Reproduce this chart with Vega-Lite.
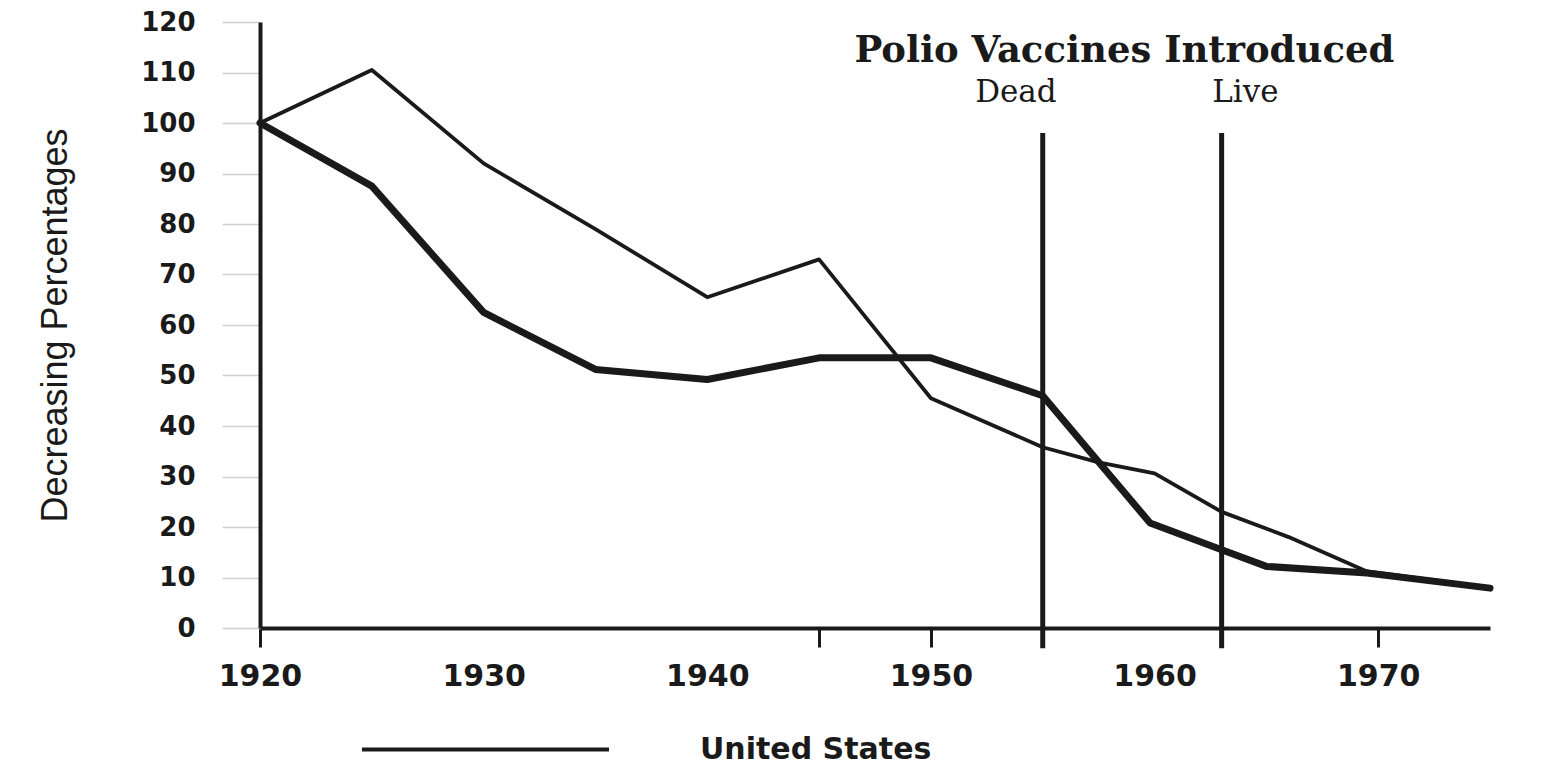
{
  "$schema": "https://vega.github.io/schema/vega-lite/v6.json",
  "width": 1230,
  "height": 606,
  "autosize": "none",
  "padding": {"left": 260, "top": 22, "right": 72, "bottom": 138},
  "background": "white",
  "config": {"view": {"stroke": null}},
  "datasets": {
    "series": [
      {"series": "United States", "year": 1920, "value": 100},
      {"series": "United States", "year": 1925, "value": 110.5},
      {"series": "United States", "year": 1930, "value": 92},
      {"series": "United States", "year": 1935, "value": 79},
      {"series": "United States", "year": 1940, "value": 65.5},
      {"series": "United States", "year": 1945, "value": 73},
      {"series": "United States", "year": 1950, "value": 45.5},
      {"series": "United States", "year": 1955, "value": 35.8},
      {"series": "United States", "year": 1957.5, "value": 32.8},
      {"series": "United States", "year": 1960, "value": 30.6},
      {"series": "United States", "year": 1963, "value": 23},
      {"series": "United States", "year": 1966, "value": 18},
      {"series": "United States", "year": 1969.5, "value": 11.2},
      {"series": "United States", "year": 1975, "value": 8},
      {"series": "Other country", "year": 1920, "value": 100},
      {"series": "Other country", "year": 1925, "value": 87.5},
      {"series": "Other country", "year": 1930, "value": 62.5},
      {"series": "Other country", "year": 1935, "value": 51.2},
      {"series": "Other country", "year": 1940, "value": 49.2},
      {"series": "Other country", "year": 1945, "value": 53.5},
      {"series": "Other country", "year": 1950, "value": 53.5},
      {"series": "Other country", "year": 1955, "value": 46},
      {"series": "Other country", "year": 1959.8, "value": 20.8},
      {"series": "Other country", "year": 1963, "value": 15.5},
      {"series": "Other country", "year": 1965, "value": 12.2},
      {"series": "Other country", "year": 1969.5, "value": 10.9},
      {"series": "Other country", "year": 1975, "value": 7.9}
    ],
    "events": [
      {"event": "Dead", "year": 1955},
      {"event": "Live", "year": 1963}
    ],
    "labels": [
      {"text": "Dead", "year": 1953.8, "value": 106},
      {"text": "Live", "year": 1964.06, "value": 106}
    ],
    "heading": [
      {"text": "Polio Vaccines Introduced", "year": 1958.65, "value": 114.2}
    ]
  },
  "layer": [
    {
      "data": {"name": "series"},
      "mark": {"type": "line", "color": "#1a1a1a", "strokeJoin": "round", "strokeCap": "round"},
      "encoding": {
        "x": {
          "field": "year", "type": "quantitative", "title": null,
          "scale": {"domain": [1920, 1975], "nice": false, "zero": false},
          "axis": {
            "title": null,
            "values": [1920, 1930, 1940, 1945, 1950, 1960, 1970],
            "format": "d",
            "labelExpr": "datum.value == 1945 ? '' : datum.label",
            "grid": false,
            "domainColor": "#1a1a1a", "domainWidth": 4,
            "tickColor": "#1a1a1a", "tickWidth": 3, "tickSize": 19,
            "tickOpacity": {"condition": {"test": "datum.value == 1930 || datum.value == 1940 || datum.value == 1960", "value": 0}, "value": 1},
            "labelFont": "DejaVu Sans", "labelFontWeight": "bold", "labelFontSize": 30,
            "labelColor": "#1a1a1a", "labelPadding": 14,
            "labelFlush": false, "labelOverlap": false
          }
        },
        "y": {
          "field": "value", "type": "quantitative", "title": "Decreasing Percentages",
          "scale": {"domain": [0, 120], "nice": false},
          "axis": {
            "title": "Decreasing Percentages",
            "values": [0, 10, 20, 30, 40, 50, 60, 70, 80, 90, 100, 110, 120],
            "grid": false,
            "domainColor": "#1a1a1a", "domainWidth": 4,
            "tickColor": "#d0d0d0", "tickSize": 38, "tickWidth": 1.5,
            "labelFont": "DejaVu Sans", "labelFontWeight": "bold", "labelFontSize": 26,
            "labelColor": "#1a1a1a", "labelPadding": 27,
            "labelFlush": false, "labelOverlap": false,
            "titleFont": "Liberation Sans", "titleFontWeight": "normal", "titleFontSize": 36,
            "titleColor": "#1a1a1a", "titlePadding": 66
          }
        },
        "detail": {"field": "series", "type": "nominal"},
        "strokeWidth": {
          "field": "series", "type": "nominal",
          "scale": {"domain": ["United States", "Other country"], "range": [3.8, 7]},
          "legend": {
            "values": ["United States"],
            "orient": "none", "legendX": 100, "legendY": 602,
            "title": null,
            "symbolType": "stroke", "symbolSize": 61000,
            "symbolStrokeColor": "#1a1a1a",
            "labelFont": "DejaVu Sans", "labelFontWeight": "bold", "labelFontSize": 30,
            "labelColor": "#1a1a1a", "labelOffset": 89, "labelLimit": 0
          }
        }
      }
    },
    {
      "data": {"name": "events"},
      "mark": {"type": "rule", "color": "#1a1a1a", "strokeWidth": 5},
      "encoding": {
        "x": {"field": "year", "type": "quantitative", "title": null},
        "y": {"datum": -4},
        "y2": {"datum": 98}
      }
    },
    {
      "data": {"name": "labels"},
      "mark": {"type": "text", "font": "DejaVu Serif", "fontSize": 31, "color": "#1a1a1a", "baseline": "middle"},
      "encoding": {
        "x": {"field": "year", "type": "quantitative", "title": null},
        "y": {"field": "value", "type": "quantitative", "title": "Decreasing Percentages"},
        "text": {"field": "text"}
      }
    },
    {
      "data": {"name": "heading"},
      "mark": {"type": "text", "font": "DejaVu Serif", "fontWeight": "bold", "fontSize": 37, "color": "#1a1a1a", "baseline": "middle"},
      "encoding": {
        "x": {"field": "year", "type": "quantitative", "title": null},
        "y": {"field": "value", "type": "quantitative", "title": "Decreasing Percentages"},
        "text": {"field": "text"}
      }
    }
  ]
}
